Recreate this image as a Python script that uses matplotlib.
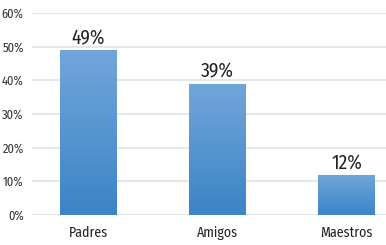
import matplotlib
matplotlib.use("Agg")
import matplotlib.pyplot as plt
import numpy as np
from matplotlib.colors import LinearSegmentedColormap
from matplotlib.patches import Rectangle

categories = ["Padres", "Amigos", "Maestros"]
values = [49, 39, 12]
yticks = [0, 10, 20, 30, 40, 50, 60]

plt.rcParams['font.family'] = ['Fira Sans Condensed', 'DejaVu Sans']

fig = plt.figure(figsize=(3.86, 2.45), dpi=100)
ax = fig.add_axes([32/386, 30/245, (386-32)/386, (215-13)/245])

cmap = LinearSegmentedColormap.from_list("g", ["#3b84c6", "#72a6da"])
width = 0.44
x = np.arange(len(categories))
for xi, v in zip(x, values):
    grad = np.linspace(0, 1, 256).reshape(-1, 1)
    im = ax.imshow(grad, cmap=cmap, origin="lower", aspect="auto",
                   extent=[xi - width/2, xi + width/2, 0, v], zorder=3)
    rect = Rectangle((xi - width/2, 0), width, v, facecolor="none", edgecolor="none")
    ax.add_patch(rect)
    im.set_clip_path(rect)
    ax.text(xi, v + 0.6, f"{v}%", ha="center", va="bottom", fontsize=14, color="#222222")

ax.set_xlim(-0.438, 2.306)
ax.set_ylim(0, 60)
ax.set_yticks(yticks)
ax.set_yticklabels([f"{t}%" for t in yticks], fontsize=9, color="#333333")
ax.set_xticks(x)
ax.set_xticklabels(categories, fontsize=10, color="#222222")
ax.tick_params(axis="both", length=0)
ax.tick_params(axis="y", pad=6)
ax.tick_params(axis="x", pad=8)
ax.grid(axis="y", color="#dde4ec", linewidth=1.2, zorder=0)
ax.set_axisbelow(True)
for s in ax.spines.values():
    s.set_visible(False)

fig.savefig("out.png", dpi=100)
